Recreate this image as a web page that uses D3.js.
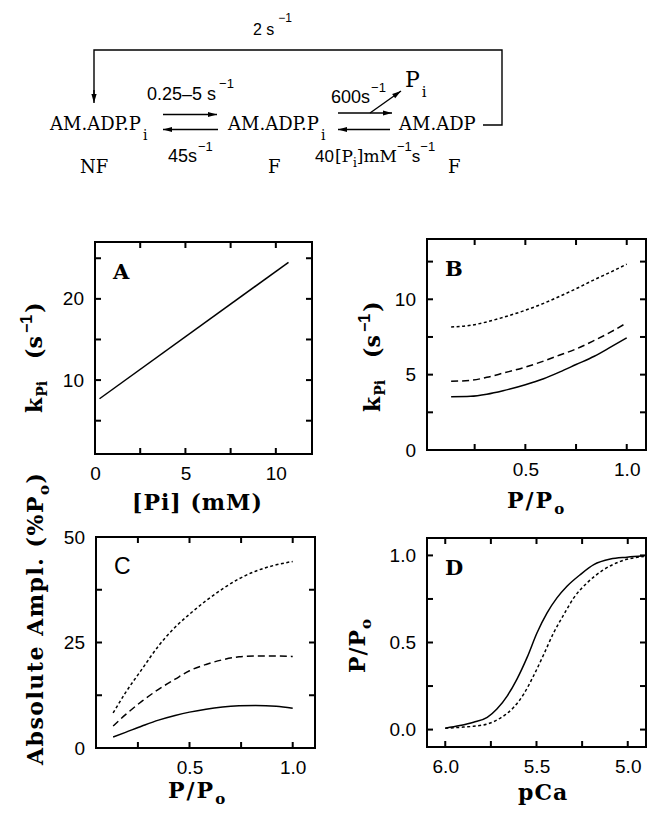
<!DOCTYPE html>
<html>
<head>
<meta charset="utf-8">
<script src="https://cdn.jsdelivr.net/npm/d3@7"></script>
<style>
  html, body { margin: 0; padding: 0; background: #fff; }
  svg { display: block; }
</style>
</head>
<body>
<div id="chart"></div>
<script>
// --- data ---
// A : k_Pi vs [Pi]
const aPi = [0.25, 10.7];
const aK = [7.7, 24.5];

// B : k_Pi vs P/Po (three curves)
const bX = [0.134, 0.23, 0.31, 0.39, 0.5, 0.59, 0.67, 0.75, 0.84, 0.92, 1.0];
const bDotted = [8.16, 8.27, 8.5, 8.8, 9.27, 9.73, 10.2, 10.7, 11.3, 11.8, 12.33];
const bDashed = [4.56, 4.62, 4.82, 5.1, 5.5, 5.9, 6.3, 6.7, 7.27, 7.82, 8.44];
const bSolid = [3.53, 3.56, 3.7, 3.93, 4.33, 4.73, 5.18, 5.67, 6.22, 6.82, 7.44];

// C : absolute amplitude vs P/Po
const cX = [0.13, 0.19, 0.27, 0.35, 0.43, 0.5, 0.58, 0.66, 0.74, 0.82, 0.92, 1.0];
const cDotted = [8.3, 13.1, 18.7, 24.2, 28.6, 31.7, 34.9, 37.7, 40.1, 41.9, 43.4, 44.2];
const cDashed = [5.2, 7.9, 11.1, 13.9, 16.3, 18.3, 19.8, 20.9, 21.6, 21.8, 21.8, 21.7];
const cSolid = [2.6, 3.7, 5.2, 6.6, 7.7, 8.5, 9.2, 9.7, 10.0, 10.1, 9.9, 9.4];

// D : P/Po vs pCa
const dSolidCa = [6.0, 5.92, 5.845, 5.77, 5.717, 5.66, 5.607, 5.552, 5.497, 5.442, 5.388, 5.333, 5.26, 5.186, 5.095, 5.004, 4.912];
const dSolidP = [0.008, 0.023, 0.042, 0.07, 0.118, 0.194, 0.29, 0.413, 0.556, 0.67, 0.756, 0.823, 0.89, 0.947, 0.979, 0.99, 0.998];
const dDashedCa = [6.0, 5.918, 5.845, 5.77, 5.70, 5.625, 5.57, 5.516, 5.46, 5.406, 5.35, 5.296, 5.223, 5.132, 5.04, 4.912];
const dDashedP = [0.008, 0.013, 0.019, 0.032, 0.065, 0.128, 0.204, 0.309, 0.432, 0.556, 0.661, 0.756, 0.842, 0.918, 0.966, 0.994];

// tick values
const aXTicks = [0, 5, 10], aXMinor = [2.5, 7.5];
const aYTicks = [10, 20], aYMinor = [5, 15, 25];
const bXTicks = [0.5, 1.0], bXMinor = [0.25, 0.75];
const bYTicks = [0, 5, 10], bYMinor = [2.5, 7.5, 12.5];
const cXTicks = [0.5, 1.0], cXMinor = [0.25, 0.75];
const cYTicks = [0, 25, 50], cYMinor = [12.5, 37.5];
const dXTicks = [6.0, 5.5, 5.0], dXMinor = [5.75, 5.25];
const dYTicks = [0, 0.5, 1.0], dYMinor = [0.25, 0.75];

const SERIF = "DejaVu Serif";
const SANS = "Liberation Sans";
const DASH = "7,4";
const DOT = "3,2.5";
const TICK = 6;

const svg = d3.select("#chart").append("svg")
  .attr("width", 652)
  .attr("height", 816);

// text with sub/superscripts : each part has its own baseline offset
function rich(g, x, y, parts, size, family, weight) {
  const t = g.append("text")
    .attr("x", x).attr("y", y)
    .attr("font-size", size)
    .attr("font-family", family)
    .attr("font-weight", weight || "normal")
    .attr("fill", "#000");
  let cur = 0;
  parts.forEach(p => {
    const o = p.o || 0;
    const sp = t.append("tspan").attr("dy", o - cur).text(p.t);
    if (p.fs) sp.attr("font-size", p.fs);
    if (p.f) sp.attr("font-family", p.f);
    if (p.dx) sp.attr("dx", p.dx);
    cur = o;
  });
  return t;
}

function arrow(x1, y1, x2, y2) {
  svg.append("line")
    .attr("x1", x1).attr("y1", y1).attr("x2", x2).attr("y2", y2)
    .attr("stroke", "#000").attr("stroke-width", 1.4);
  const a = Math.atan2(y2 - y1, x2 - x1), L = 9, w = 2.6;
  const bx = x2 - L * Math.cos(a), by = y2 - L * Math.sin(a);
  const px = -Math.sin(a) * w, py = Math.cos(a) * w;
  svg.append("path")
    .attr("d", `M${x2},${y2}L${bx + px},${by + py}L${bx - px},${by - py}Z`)
    .attr("fill", "#000");
}

// ---- reaction scheme ----
svg.append("path")
  .attr("d", "M483,125H502V50H94V94")
  .attr("fill", "none").attr("stroke", "#000").attr("stroke-width", 1.4);
arrow(94, 90, 94, 103);
rich(svg, 253, 35, [{t: "2 s"}, {t: "−1", o: -13, fs: 12, dx: 4}], 16, SANS);

rich(svg, 50, 130, [{t: "AM.ADP.P"}, {t: "i", o: 10, fs: 14, dx: 2}], 18, SERIF);
rich(svg, 228, 130, [{t: "AM.ADP.P"}, {t: "i", o: 10, fs: 14, dx: 2}], 18, SERIF);
rich(svg, 399, 130, [{t: "AM.ADP"}], 18, SERIF);
rich(svg, 405, 87, [{t: "P"}, {t: "i", o: 10, fs: 15, dx: 2}], 22, SERIF);

arrow(163, 114.5, 217, 114.5);
arrow(218, 129.5, 163, 129.5);
arrow(338, 113, 392, 113);
arrow(370, 113, 401, 91);
arrow(390, 129.5, 338, 129.5);

rich(svg, 147, 100, [{t: "0.25–5 s"}, {t: "−1", o: -12, fs: 13, dx: 3}], 18, SANS);
rich(svg, 168, 162, [{t: "45s"}, {t: "−1", o: -11, fs: 13, dx: 1}], 18, SANS);
rich(svg, 331, 103, [{t: "600s"}, {t: "−1", o: -11, fs: 13, dx: 1}], 18, SANS);
rich(svg, 315, 162, [
  {t: "40", f: SANS}, {t: "[P", dx: 1}, {t: "i", o: 5, fs: 12}, {t: "]mM", o: 0},
  {t: "−1", o: -11, fs: 13, f: SANS}, {t: "s", o: 0, f: SANS}, {t: "−1", o: -11, fs: 13, f: SANS}
], 17, SERIF);

rich(svg, 80, 173, [{t: "NF"}], 18, SERIF);
rich(svg, 268, 173, [{t: "F"}], 18, SERIF);
rich(svg, 448, 173, [{t: "F"}], 18, SERIF);

// ---- panels ----
function panel(box, xDom, yDom, xT, xM, yT, yM, fx, fy) {
  const x = d3.scaleLinear().domain(xDom).range([box.x0, box.x1]);
  const y = d3.scaleLinear().domain(yDom).range([box.y1, box.y0]);
  const g = svg.append("g");

  // tick labels through d3 axes
  const gx = g.append("g").attr("transform", `translate(0,${box.y1})`)
    .call(d3.axisBottom(x).tickValues(xT).tickSize(0).tickPadding(13).tickFormat(fx));
  const gy = g.append("g").attr("transform", `translate(${box.x0},0)`)
    .call(d3.axisLeft(y).tickValues(yT).tickSize(0).tickPadding(11).tickFormat(fy));
  [gx, gy].forEach(a => {
    a.select(".domain").remove();
    a.selectAll("text").attr("font-family", SANS).attr("font-size", 19).attr("fill", "#000");
  });

  g.append("rect")
    .attr("x", box.x0).attr("y", box.y0)
    .attr("width", box.x1 - box.x0).attr("height", box.y1 - box.y0)
    .attr("fill", "none").attr("stroke", "#000").attr("stroke-width", 2);

  // inward tick marks on the four sides (small filled bars)
  const tk = svg.append("g").attr("fill", "#000");
  xT.concat(xM).forEach(v => {
    tk.append("rect").attr("x", x(v) - 1).attr("y", box.y1 - TICK).attr("width", 2).attr("height", TICK);
    tk.append("rect").attr("x", x(v) - 1).attr("y", box.y0).attr("width", 2).attr("height", TICK);
  });
  yT.concat(yM).forEach(v => {
    tk.append("rect").attr("x", box.x0).attr("y", y(v) - 1).attr("width", TICK).attr("height", 2);
    tk.append("rect").attr("x", box.x1 - TICK).attr("y", y(v) - 1).attr("width", TICK).attr("height", 2);
  });
  return {g, x, y};
}

function curve(p, xs, ys, dash) {
  const pts = xs.map((v, i) => [v, ys[i]]);
  p.g.append("path")
    .attr("d", d3.line().x(d => p.x(d[0])).y(d => p.y(d[1])).curve(d3.curveMonotoneX)(pts))
    .attr("fill", "none").attr("stroke", "#000").attr("stroke-width", 1.5)
    .attr("stroke-dasharray", dash || null);
}

function letter(p, box, s, family) {
  p.g.append("text").attr("x", box.x0 + 18).attr("y", box.y0 + 37)
    .attr("font-family", family).attr("font-weight", family === SERIF ? "bold" : "normal")
    .attr("font-size", family === SERIF ? 21 : 23).text(s);
}

const f1 = d3.format(".1f"), f0 = d3.format("d");
const LBL = 22;

// rotated labels start at the bottom and read upwards
function vLabel(parts, tx, ty, size, ls) {
  rich(svg, 0, 0, parts, size, SERIF, "bold")
    .attr("letter-spacing", ls)
    .attr("transform", `translate(${tx},${ty}) rotate(-90)`);
}
const kpiParts = [{t: "k"}, {t: "Pi", o: 5, fs: 14, dx: 1}, {t: "(s", o: 0, dx: 22},
  {t: "−1", o: -10, fs: 16, f: SANS, dx: 3}, {t: ")", o: 0, dx: 2}];
const poParts = [{t: "P/P"}, {t: "o", o: 6, fs: 15}];

// A
const boxA = {x0: 95, x1: 312, y0: 242, y1: 454};
const pA = panel(boxA, [0, 12], [0.9, 27], aXTicks, aXMinor, aYTicks, aYMinor, f0, f0);
curve(pA, aPi, aK);
letter(pA, boxA, "A", SERIF);
rich(svg, 132, 510, [{t: "[Pi] (mM)"}], LBL, SERIF, "bold").attr("letter-spacing", 1);
vLabel(kpiParts, 42, 413, 22, 0);

// B
const boxB = {x0: 427, x1: 646, y0: 239, y1: 450};
const pB = panel(boxB, [0.015, 1.095], [0, 14], bXTicks, bXMinor, bYTicks, bYMinor, f1, f0);
curve(pB, bX, bDotted, DOT);
curve(pB, bX, bDashed, DASH);
curve(pB, bX, bSolid);
letter(pB, boxB, "B", SERIF);
rich(svg, 507, 508, poParts, LBL, SERIF, "bold").attr("letter-spacing", 2);
vLabel(kpiParts, 380, 412, 22, 0);

// C
const boxC = {x0: 96, x1: 315, y0: 537, y1: 748};
const pC = panel(boxC, [0.047, 1.108], [0, 50], cXTicks, cXMinor, cYTicks, cYMinor, f1, f0);
curve(pC, cX, cDotted, DOT);
curve(pC, cX, cDashed, DASH);
curve(pC, cX, cSolid);
letter(pC, boxC, "C", SANS);
rich(svg, 168, 798, poParts, LBL, SERIF, "bold").attr("letter-spacing", 2);
vLabel([{t: "Absolute Ampl. (%P"}, {t: "o", o: 6, fs: 15}, {t: ")", o: 0}], 43, 765, 22, 1.5);

// D
const boxD = {x0: 427, x1: 646, y0: 538, y1: 747};
const pD = panel(boxD, [6.1, 4.9], [-0.1, 1.1], dXTicks, dXMinor, dYTicks, dYMinor, f1, f1);
curve(pD, dSolidCa, dSolidP);
curve(pD, dDashedCa, dDashedP, DOT);
letter(pD, boxD, "D", SERIF);
rich(svg, 518, 800, [{t: "pCa"}], LBL, SERIF, "bold").attr("letter-spacing", 1);
vLabel(poParts, 365, 673, LBL, 1);
</script>
</body>
</html>
